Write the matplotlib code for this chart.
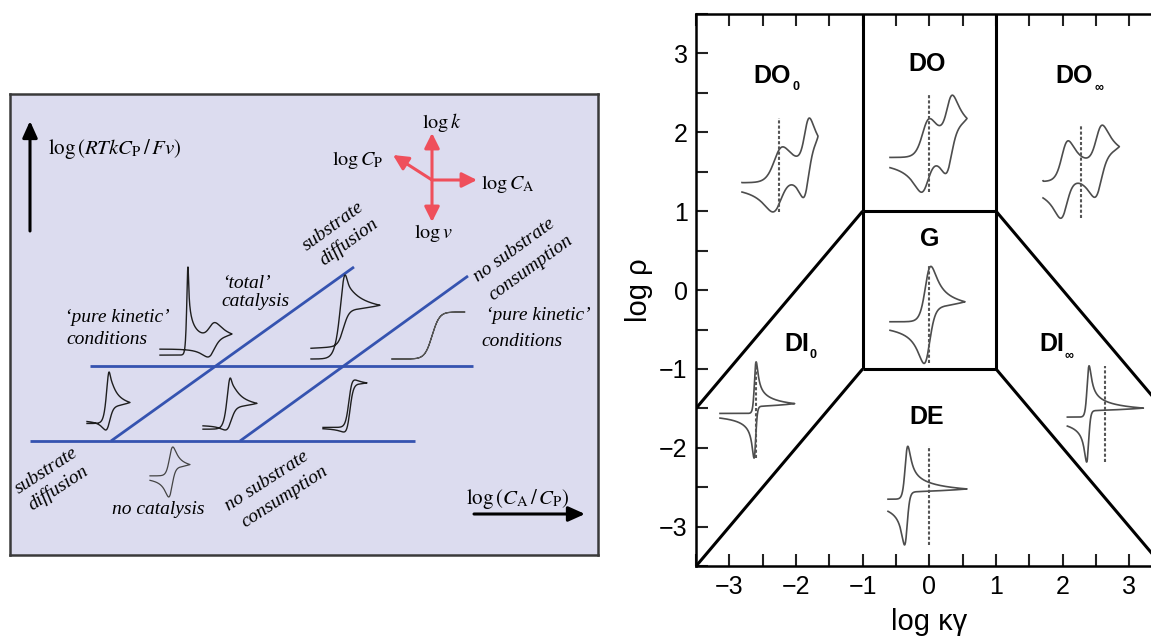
import numpy as np
import matplotlib.pyplot as plt

plt.rcParams['mathtext.fontset'] = 'stix'
plt.rcParams['font.family'] = ['Liberation Sans', 'DejaVu Sans']

W, H = 1151, 641

# ---------------- left scheme (panel drawn in pixel-like units) ----------------
blue_h_y = [366, 441]
blue_h_x0 = [90, 30]
blue_h_x1 = [473, 415]
blue_d_x0 = [111, 240]
blue_d_y0 = [441, 441]
blue_d_x1 = [354, 468]
blue_d_y1 = [267, 276]

compass_center = (432, 180)
compass_tip_x = [432, 393, 477, 432]
compass_tip_y = [133, 155, 180, 222]
compass_labels = [r'$\log k$', r'$\log C_{\mathrm{P}}$', r'$\log C_{\mathrm{A}}$', r'$\log v$']
compass_label_x = [442, 358, 508, 433]
compass_label_y = [123, 160, 184, 233]

# ---------------- right zone diagram ----------------
edge_x0 = [-1, 1, -1, -1, -1, 1, -1, -1, 1, 1]
edge_y0 = [3.5, 3.5, 1, -1, 1, 1, 1, -1, 1, -1]
edge_x1 = [-1, 1, 1, 1, -1, 1, -3.5, -3.5, 3.5, 3.5]
edge_y1 = [1, 1, 1, -1, -1, -1, -1.5, -3.5, -1.5, -3.5]

zone_names = ['DO', 'DO', 'DO', 'G', 'DI', 'DI', 'DE']
zone_subs = ['0', '', '\u221e', '', '0', '\u221e', '']
zone_x = [-2.36, -0.03, 2.17, 0.0, -1.99, 1.84, -0.04]
zone_y = [2.71, 2.86, 2.71, 0.65, -0.68, -0.68, -1.61]
sub_dx = [24, 0, 25, 0, 16, 17, 0]
sub_dy = [-11, 0, -12, 0, -11, -12, 0]

x_ticks = [-3, -2, -1, 0, 1, 2, 3]
y_ticks = [-3, -2, -1, 0, 1, 2, 3]


def sig(x):
    return 1.0 / (1.0 + np.exp(-x))


def semi_derivative(s, h):
    # Grunwald-Letnikov half derivative: current from surface conversion
    g = np.ones(len(s))
    for j in range(1, len(s)):
        g[j] = g[j - 1] * (j - 1.5) / j
    return np.convolve(s, g)[:len(s)] / np.sqrt(h)


def voltammogram(rev=(), cat=None, plateau=None, n=400):
    E = np.concatenate([np.linspace(0, 1, n), np.linspace(1, 0, n)[1:]])
    h = 1.0 / (n - 1)
    s = np.zeros_like(E)
    for e0, w, a in rev:
        s += a * sig((E - e0) / w)
    i = semi_derivative(s, h)
    if cat is not None:
        ec, wc, ac = cat
        sc = 1 - np.exp(-np.exp((E - ec) / wc))
        sc = np.maximum.accumulate(sc)
        i += ac * semi_derivative(sc, h)
    if plateau is not None:
        ep, wp, ap = plateau
        i += ap * sig((E - ep) / wp)
    return E, i


def draw_cv(ax, box, color, lw, **kw):
    x0, x1, ytop, ybot = box
    E, i = voltammogram(**kw)
    v = (i - i.min()) / (i.max() - i.min())
    ax.plot(x0 + E * (x1 - x0), ybot + v * (ytop - ybot), color=color, lw=lw,
            solid_joinstyle='round')


fig = plt.figure(figsize=(W / 100, H / 100), dpi=100)

# ======================= left panel =======================
axl = fig.add_axes([10 / W, 1 - 555 / H, 588 / W, 461 / H])
axl.set_xlim(10, 598)
axl.set_ylim(555, 94)
axl.set_facecolor('#dcdcef')
axl.set_xticks([])
axl.set_yticks([])
for sp in axl.spines.values():
    sp.set_color('#3a3a3a')
    sp.set_linewidth(1.8)

blue = '#3553b0'
for y, xa, xb in zip(blue_h_y, blue_h_x0, blue_h_x1):
    axl.plot([xa, xb], [y, y], color=blue, lw=2.0, solid_capstyle='butt')
for xa, ya, xb, yb in zip(blue_d_x0, blue_d_y0, blue_d_x1, blue_d_y1):
    axl.plot([xa, xb], [ya, yb], color=blue, lw=2.0, solid_capstyle='butt')

# axis arrows
axl.annotate('', xy=(30, 121), xytext=(30, 231),
             arrowprops=dict(arrowstyle='-|>,head_length=1.0,head_width=0.45',
                             lw=2.2, color='black', shrinkA=0, shrinkB=0))
axl.annotate('', xy=(585, 514), xytext=(474, 514),
             arrowprops=dict(arrowstyle='-|>,head_length=1.0,head_width=0.45',
                             lw=2.2, color='black', shrinkA=0, shrinkB=0))
axl.text(48, 149, r'$\log\left(RTkC_{\mathrm{P}}\,/\,Fv\right)$', fontsize=15,
         ha='left', va='center')
axl.text(518, 499, r'$\log\left(C_{\mathrm{A}}\,/\,C_{\mathrm{P}}\right)$', fontsize=15,
         ha='center', va='center')

# red compass
red = '#ef4f5b'
for tx, ty in zip(compass_tip_x, compass_tip_y):
    axl.annotate('', xy=(tx, ty), xytext=compass_center,
                 arrowprops=dict(arrowstyle='-|>,head_length=0.9,head_width=0.45',
                                 lw=2.2, color=red, shrinkA=0, shrinkB=0))
for lab, lx, ly in zip(compass_labels, compass_label_x, compass_label_y):
    axl.text(lx, ly, lab, fontsize=14.5, ha='center', va='center')

serif = dict(family='Liberation Serif', style='italic', fontsize=14,
             ha='center', va='center', rotation_mode='anchor')
axl.text(246, 283, '\u2018total\u2019', **serif)
axl.text(255, 302, 'catalysis', **serif)
axl.text(117, 318, '\u2018pure kinetic\u2019', **serif)
axl.text(107, 339, 'conditions', **serif)
axl.text(538, 315, '\u2018pure kinetic\u2019', **serif)
axl.text(522, 342, 'conditions', **serif)
axl.text(158, 509, 'no catalysis', **serif)
axl.text(333, 226, 'substrate', rotation=36, **serif)
axl.text(349, 242, 'diffusion', rotation=36, **serif)
axl.text(514, 250, 'no substrate', rotation=36, **serif)
axl.text(531, 268, 'consumption', rotation=36, **serif)
axl.text(46, 471, 'substrate', rotation=33, **serif)
axl.text(58, 488, 'diffusion', rotation=33, **serif)
axl.text(267, 481, 'no substrate', rotation=33, **serif)
axl.text(285, 497, 'consumption', rotation=33, **serif)

ink = '#1e1e1e'
draw_cv(axl, (160, 232, 267, 357), ink, 1.0,
        rev=[(0.72, 0.045, 0.5)], cat=(0.38, 0.012, 1.0))
draw_cv(axl, (311, 380, 275, 359), ink, 1.0,
        cat=(0.45, 0.05, 1.0), plateau=(0.47, 0.04, 1.5))
draw_cv(axl, (392, 465, 312, 359), '#555555', 0.9,
        plateau=(0.55, 0.05, 1.0))
draw_cv(axl, (87, 130, 372, 430), ink, 1.0,
        rev=[(0.5, 0.045, 0.8)], cat=(0.48, 0.04, 1.0), plateau=(0.5, 0.045, 0.5))
draw_cv(axl, (203, 257, 378, 430), ink, 1.0,
        rev=[(0.5, 0.045, 0.5)], cat=(0.47, 0.04, 1.0), plateau=(0.5, 0.045, 1.0))
draw_cv(axl, (323, 367, 380, 432), ink, 1.0,
        rev=[(0.6, 0.04, 0.4)], plateau=(0.6, 0.04, 3.0))
draw_cv(axl, (150, 190, 447, 497), '#444444', 0.9,
        rev=[(0.52, 0.045, 1.0)])

# ======================= right panel =======================
axr = fig.add_axes([696 / W, (641 - 566.2) / H, 466.7 / W, 552.3 / H])
axr.set_xlim(-3.5, 3.5)
axr.set_ylim(-3.5, 3.5)
for xa, ya, xb, yb in zip(edge_x0, edge_y0, edge_x1, edge_y1):
    axr.plot([xa, xb], [ya, yb], color='black', lw=2.2, solid_capstyle='butt')

axr.set_xticks(x_ticks)
axr.set_yticks(y_ticks)
axr.set_xticks(np.arange(-3.5, 3.6, 0.5), minor=True)
axr.set_yticks(np.arange(-3.5, 3.6, 0.5), minor=True)
axr.tick_params(which='both', direction='in', top=True, right=True,
                length=8.5, width=1.5, color='#222222')
axr.tick_params(which='major', labelsize=18, pad=6)
for sp in axr.spines.values():
    sp.set_linewidth(1.8)
axr.set_xlabel('log \u03ba\u03b3', fontsize=21, labelpad=7)
axr.set_ylabel('log \u03c1', fontsize=21, labelpad=4)

for name, sub, zx, zy, dx, dy in zip(zone_names, zone_subs, zone_x, zone_y, sub_dx, sub_dy):
    axr.text(zx, zy, name, fontsize=18, fontweight='bold', ha='center', va='center')
    if sub:
        axr.annotate(sub, (zx, zy), xytext=(dx, dy), textcoords='offset pixels',
                     fontsize=9, fontweight='bold', ha='center', va='center')

gray = '#4d4d4d'
right_cvs = [
    ((-2.81, -1.67, 2.18, 0.99), -2.25, dict(rev=[(0.47, 0.06, 1.0), (0.85, 0.035, 1.0)])),
    ((-0.59, 0.565, 2.47, 1.24), 0.0, dict(rev=[(0.46, 0.05, 1.0), (0.77, 0.04, 1.0)])),
    ((1.705, 2.85, 2.09, 0.91), 2.275, dict(rev=[(0.28, 0.045, 1.0), (0.73, 0.045, 1.0)])),
    ((-0.59, 0.535, 0.30, -0.93), 0.0, dict(rev=[(0.50, 0.04, 1.0)])),
    ((-3.14, -2.02, -0.91, -2.13), -2.6, dict(rev=[(0.47, 0.012, 1.0)])),
    ((2.07, 3.21, -0.96, -2.18), 2.635, dict(rev=[(0.27, 0.014, 1.0)])),
    ((-0.62, 0.565, -1.98, -3.23), 0.0, dict(rev=[(0.23, 0.018, 1.0)])),
]
for box, e0, kw in right_cvs:
    draw_cv(axr, box, gray, 1.2, **kw)
    axr.plot([e0, e0], [box[3], box[2]], color='#555555', lw=1.5,
             linestyle=(0, (1.5, 1.0)))

fig.savefig('out.png', dpi=100)
